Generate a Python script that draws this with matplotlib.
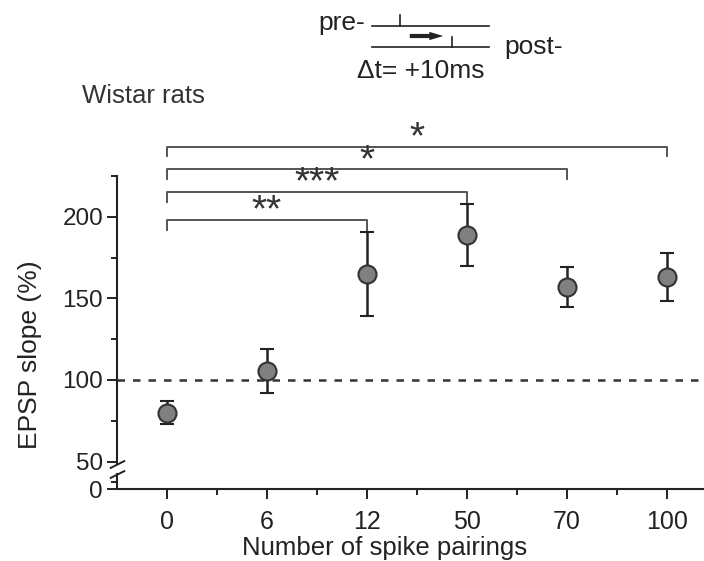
import matplotlib
matplotlib.use("Agg")
import matplotlib.pyplot as plt
import numpy as np
from matplotlib.lines import Line2D
from matplotlib.patches import FancyArrowPatch

plt.rcParams['font.family'] = ['Liberation Sans', 'DejaVu Sans']

# data
pairings = ['0', '6', '12', '50', '70', '100']
slope = [80, 105.5, 165, 189, 157, 163]
slope_err = [7, 13.5, 25.5, 19, 12, 14.5]

# significance brackets, all starting at the 0-pairing group
brk_to = [2, 3, 4, 5]
brk_y = [198, 215, 229, 243]
brk_lab = ['**', '***', '*', '*']

W, H = 704, 561
fig = plt.figure(figsize=(W / 100, H / 100), dpi=100)


def fx(px):
    return px / W


def fy(py):
    return 1 - py / H


dark = '#222222'
left = fx(117)
ax = fig.add_axes([left, fy(464), 1 - left, (464 - 175.5) / H])
axb = fig.add_axes([left, fy(489), 1 - left, (489 - 474) / H])

x = np.arange(len(pairings))

# upper part of broken axis
ax.axhline(100, color='#333333', lw=1.8, dashes=(3, 3.2), zorder=1)
ax.errorbar(x, slope, yerr=slope_err, fmt='o', ms=13, mfc='#808080',
            mec='#333333', mew=1.5, ecolor=dark, elinewidth=1.8,
            capsize=5, capthick=1.8, zorder=3)
ax.set_xlim(-0.5, 5.37)
ax.set_ylim(48.5, 225.3)
ax.set_yticks([50, 100, 150, 200])
ax.set_yticks([75, 125, 175, 225], minor=True)
for s in ['top', 'right', 'bottom']:
    ax.spines[s].set_visible(False)
ax.spines['left'].set_linewidth(1.5)
ax.spines['left'].set_color(dark)
ax.tick_params(axis='x', which='both', bottom=False, labelbottom=False)
ax.tick_params(axis='y', which='major', length=7, width=1.4, pad=3,
               labelsize=17.5, color=dark, labelcolor=dark)
ax.tick_params(axis='y', which='minor', length=4, width=1.4, color=dark)

# lower part of broken axis
axb.set_xlim(-0.5, 5.37)
axb.set_ylim(0, 20)
axb.set_yticks([0])
axb.set_yticks([10], minor=True)
axb.set_xticks(x)
axb.set_xticklabels(pairings)
axb.set_xticks(x[:-1] + 0.5, minor=True)
for s in ['top', 'right']:
    axb.spines[s].set_visible(False)
for s in ['left', 'bottom']:
    axb.spines[s].set_linewidth(1.5)
    axb.spines[s].set_color(dark)
axb.tick_params(which='major', length=7, width=1.4, labelsize=17.5,
                color=dark, labelcolor=dark)
axb.tick_params(axis='x', which='major', pad=8, labelsize=18)
axb.tick_params(axis='y', which='major', pad=3)
axb.tick_params(which='minor', length=4, width=1.4, color=dark)
axb.patch.set_alpha(0)

# break marks
kw = dict(marker=[(-1, -0.5), (1, 0.5)], markersize=11, linestyle='none',
          color=dark, mec=dark, mew=1.4, clip_on=False)
ax.plot([0], [0], transform=ax.transAxes, **kw)
axb.plot([0], [1], transform=axb.transAxes, **kw)

# significance brackets
for to, yb, lab in zip(brk_to, brk_y, brk_lab):
    ax.plot([0, 0, to, to], [yb - 6, yb, yb, yb - 6], color='#555555',
            lw=1.4, clip_on=False)
    ax.annotate(lab, (to / 2, yb), xytext=(0, -1), textcoords='offset points',
                ha='center', va='baseline', fontsize=28, color='#333333',
                annotation_clip=False)

# labels
fig.text(fx(30), fy(355), 'EPSP slope (%)', rotation=90, ha='center',
         va='center', fontsize=19, color=dark)
fig.text(fx(385), fy(548), 'Number of spike pairings', ha='center',
         va='center', fontsize=18.5, color=dark)
fig.text(fx(82), fy(103), 'Wistar rats', ha='left', va='baseline',
         fontsize=18.5, color='#333333')

# stimulation schematic
for yy in [26, 47]:
    fig.add_artist(Line2D([fx(372), fx(489)], [fy(yy), fy(yy)],
                          transform=fig.transFigure, color=dark, lw=1.2))
fig.add_artist(Line2D([fx(400), fx(400)], [fy(15), fy(26)],
                      transform=fig.transFigure, color=dark, lw=1.2))
fig.add_artist(Line2D([fx(452), fx(452)], [fy(37), fy(47)],
                      transform=fig.transFigure, color=dark, lw=1.2))
fig.add_artist(FancyArrowPatch((fx(407), fy(36)), (fx(446), fy(36)),
                               transform=fig.transFigure,
                               arrowstyle='simple,head_width=0.6,head_length=1.0,tail_width=0.3',
                               mutation_scale=10, color=dark, lw=0))
fig.text(fx(365), fy(30), 'pre-', ha='right', va='baseline', fontsize=19,
         color=dark)
fig.text(fx(504), fy(54), 'post-', ha='left', va='baseline', fontsize=19,
         color=dark)
fig.text(fx(421), fy(78), 'Δt= +10ms', ha='center', va='baseline',
         fontsize=19, color=dark)

fig.savefig('out.png', dpi=100)
